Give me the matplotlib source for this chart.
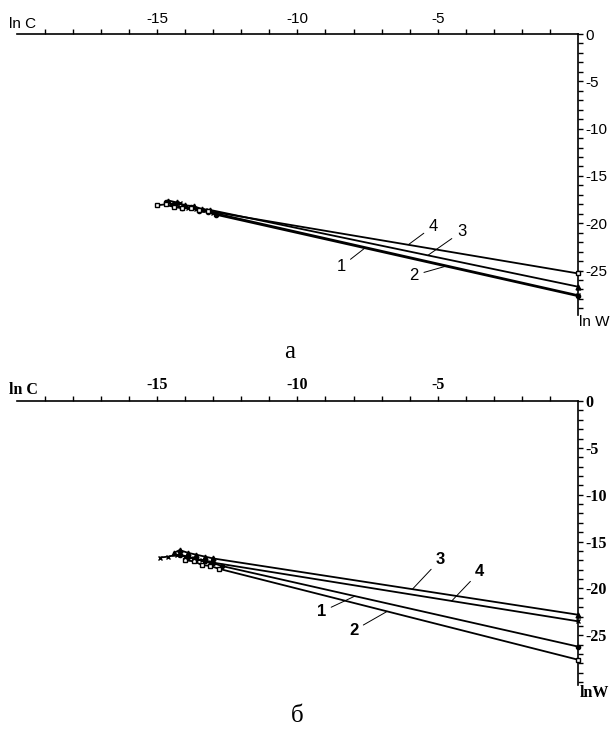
import matplotlib
matplotlib.use("Agg")
import matplotlib.pyplot as plt
import numpy as np

# panel "а": ln C (x) vs ln W (y), series 1..4
a_x1 = [-14.7, -14.4, -14.1, -13.8, -13.5, -13.2, -12.9, 0]
a_y1 = [-17.8, -18.0, -18.4, -18.3, -18.7, -18.8, -19.1, -27.7]
a_x2 = [-14.5, -14.2, -13.9, -13.6, -13.3, -13.0, 0]
a_y2 = [-18.0, -17.9, -18.4, -18.5, -18.6, -18.9, -27.6]
a_x3 = [-14.6, -14.3, -14.0, -13.7, -13.4, -13.1, 0]
a_y3 = [-17.6, -17.8, -18.1, -18.2, -18.5, -18.6, -26.7]
a_x4 = [-15.0, -14.7, -14.4, -14.1, -13.8, -13.5, -13.2, 0]
a_y4 = [-18.1, -18.0, -18.3, -18.4, -18.4, -18.6, -18.7, -25.3]

# panel "б"
b_x1 = [-14.2, -13.9, -13.6, -13.3, -13.0, -12.7, 0]
b_y1 = [-16.4, -16.6, -16.9, -17.1, -17.3, -17.6, -26.2]
b_x2 = [-14.0, -13.7, -13.4, -13.1, -12.8, 0]
b_y2 = [-17.0, -17.1, -17.5, -17.6, -17.9, -27.6]
b_x3 = [-14.4, -14.2, -13.9, -13.6, -13.3, -13.0, 0]
b_y3 = [-16.2, -15.9, -16.2, -16.4, -16.6, -16.8, -22.8]
b_x4 = [-14.9, -14.6, -14.3, -14.0, -13.7, -13.4, -13.1, 0]
b_y4 = [-16.7, -16.6, -16.4, -16.6, -16.8, -17.0, -17.2, -23.5]

series_names = ["1", "2", "3", "4"]
x_labels = {-15: "-15", -10: "-10", -5: "-5"}
y_labels = {0: "0", -5: "-5", -10: "-10", -15: "-15", -20: "-20", -25: "-25"}

# curve label: (text x, text y, x where the leader touches the line)
a_notes = [(-8.45, -24.6, -7.6), (-5.85, -25.5, -4.65), (-4.15, -20.9, -5.35), (-5.15, -20.3, -6.05)]
b_notes = [(-9.15, -22.5, -7.95), (-8.0, -24.5, -6.8), (-4.9, -16.9, -5.9), (-3.5, -18.2, -4.5)]

styles_a = [("o", "k", 3), ("x", "k", 3.5), ("^", "k", 3.5), ("s", "white", 3.5)]
styles_b = [("o", "k", 3), ("s", "white", 3.5), ("^", "k", 3.5), ("x", "k", 3.5)]


def draw_panel(ax, xs, ys, styles, notes, ylo, font, weight, ylab, fs):
    ax.set_xlim(-20, 0)
    ax.set_ylim(ylo, 0)
    for s in ["left", "bottom"]:
        ax.spines[s].set_visible(False)
    for s in ["top", "right"]:
        ax.spines[s].set_linewidth(1.2)
    ax.xaxis.tick_top()
    ax.yaxis.tick_right()
    xt = np.arange(-19, 0)
    ax.set_xticks(xt)
    ax.set_xticklabels([x_labels.get(int(v), "") for v in xt])
    yt = np.arange(0, int(np.ceil(ylo)) - 1, -1)
    ax.set_yticks(yt)
    ax.set_yticklabels([y_labels.get(int(v), "") for v in yt])
    ax.tick_params(direction="out", length=3.5, width=1, pad=2)
    for lab in ax.get_xticklabels() + ax.get_yticklabels():
        lab.set_family(font)
        lab.set_fontsize(fs)
        lab.set_fontweight(weight)

    for x, y, (m, fc, ms) in zip(xs, ys, styles):
        ax.plot(x, y, color="k", lw=1.3, marker=m, ms=ms, mfc=fc, mec="k",
                mew=1, clip_on=False, zorder=3)

    for name, x, y, (tx, ty, lx) in zip(series_names, xs, ys, notes):
        ly = np.interp(lx, x, y)
        ax.annotate(name, xy=(lx, ly), xytext=(tx, ty), ha="center", va="center",
                    fontsize=12, fontweight=weight, family="Liberation Sans",
                    arrowprops=dict(arrowstyle="-", lw=0.7, color="k",
                                    shrinkA=2, shrinkB=0))

    ax.annotate("ln C", xy=(-20, 0), xytext=(-6, 2), textcoords="offset points",
                ha="left", va="bottom", fontsize=fs, family=font, fontweight=weight,
                annotation_clip=False)
    ax.annotate(ylab, xy=(0, ylo), xytext=(1, 0), textcoords="offset points",
                ha="left", va="top", fontsize=fs, family=font, fontweight=weight,
                annotation_clip=False)


fig = plt.figure(figsize=(6.13, 7.33), dpi=100)
ax_a = fig.add_axes([0.0277, 0.5702, 0.915, 0.3834])
ax_b = fig.add_axes([0.0277, 0.0655, 0.915, 0.3874])

draw_panel(ax_a, [a_x1, a_x2, a_x3, a_x4], [a_y1, a_y2, a_y3, a_y4], styles_a, a_notes,
           -29.7, "Liberation Sans", "normal", "ln W", 11)
draw_panel(ax_b, [b_x1, b_x2, b_x3, b_x4], [b_y1, b_y2, b_y3, b_y4], styles_b, b_notes,
           -30.3, "Liberation Serif", "bold", "lnW", 11.5)

fig.text(290 / 613, 1 - 352 / 733, "а", ha="center", va="center",
         fontsize=18, family="Liberation Serif")
fig.text(297 / 613, 1 - 716 / 733, "б", ha="center", va="center",
         fontsize=18, family="Liberation Serif")

fig.savefig("out.png", dpi=100)
